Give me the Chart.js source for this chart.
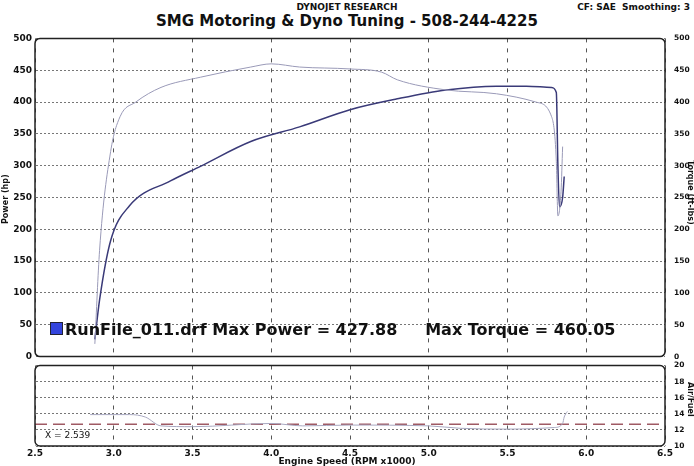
<!DOCTYPE html>
<html>
<head>
<meta charset="utf-8">
<script src="https://cdn.jsdelivr.net/npm/chart.js@4"></script>
<style>
body { margin: 0; background: #fff; font-family: "DejaVu Sans", sans-serif; }
#wrap { position: relative; width: 694px; height: 466px; }
canvas { position: absolute; left: 0; }
.t { position: absolute; color: #111; white-space: nowrap; }
.r { transform-origin: 0 0; font-size: 8px; font-weight: bold; }
</style>
</head>
<body>
<div id="wrap">
  <div class="t" style="left:0;width:694px;top:2px;text-align:center;font-size:9px;font-weight:bold;">DYNOJET RESEARCH</div>
  <div class="t" style="right:4px;top:2px;font-size:9px;font-weight:bold;">CF: SAE&nbsp; Smoothing: 3</div>
  <div class="t" style="left:0;width:694px;top:12px;text-align:center;font-size:15px;font-weight:bold;">SMG Motoring &amp; Dyno Tuning - 508-244-4225</div>
  <canvas id="main" width="694" height="335" style="top:30px"></canvas>
  <canvas id="afr" width="694" height="100" style="top:360px"></canvas>
  <div class="t" style="left:0;width:694px;top:456px;text-align:center;font-size:9px;font-weight:bold;">Engine Speed (RPM x1000)</div>
  <div class="t r" style="left:1px;top:224px;transform:rotate(-90deg);">Power (hp)</div>
  <div class="t r" style="left:695px;top:160px;transform:rotate(90deg);">Torque (ft-lbs)</div>
  <div class="t r" style="left:695px;top:382px;transform:rotate(90deg);">Air/Fuel</div>
  <div class="t" style="left:50px;top:322px;width:11px;height:11px;background:#3344dd;border:1px solid #223;"></div>
  <div class="t" style="left:65px;top:320px;font-size:16px;font-weight:bold;">RunFile_011.drf Max Power = 427.88&nbsp;&nbsp;&nbsp;&nbsp; Max Torque = 460.05</div>
  <div class="t" style="left:45px;top:430px;font-size:9px;">X = 2.539</div>
</div>
<script>
const powerRpm = [2.88, 2.91, 2.98, 3.1, 3.36, 3.55, 3.87, 4.18, 4.5, 4.8, 5.11, 5.43, 5.62, 5.78, 5.81, 5.82, 5.83, 5.85, 5.86];
const powerHp = [27, 89, 182, 237, 276, 299, 338, 361, 388, 405, 419, 425, 425, 423, 415, 300, 235, 250, 283];
const torqueRpm = [2.88, 2.91, 2.98, 3.04, 3.14, 3.3, 3.55, 3.87, 4.0, 4.18, 4.5, 4.7, 4.8, 5.11, 5.43, 5.68, 5.78, 5.81, 5.82, 5.84, 5.85];
const torqueFt = [20, 167, 322, 377, 400, 423, 439, 455, 460, 455, 452, 447, 435, 419, 413, 400, 377, 307, 221, 260, 330];
const afrRpm = [2.85, 3.1, 3.2, 3.3, 3.5, 4.0, 4.2, 4.5, 5.0, 5.2, 5.5, 5.8, 5.85, 5.86, 5.88];
const afrVal = [13.9, 13.9, 13.6, 12.5, 12.4, 12.8, 12.5, 12.6, 12.5, 12.2, 12.1, 12.3, 12.8, 13.6, 14.3];
const afrTarget = 12.7;

const pts = (xs, ys) => xs.map((x, i) => ({ x: x, y: ys[i] }));
const tickFont = { size: 9, weight: 'bold', family: 'DejaVu Sans' };
const rightFont = { size: 7.5, weight: 'bold', family: 'DejaVu Sans' };
const frame = {
  id: 'frame',
  afterDraw(c) {
    const a = c.chartArea, g = c.ctx;
    g.save(); g.strokeStyle = '#222'; g.lineWidth = 1.5;
    g.beginPath(); g.roundRect(a.left, a.top, a.right - a.left, a.bottom - a.top, 5); g.stroke();
    g.restore();
  }
};
const xScale = (show) => ({
  type: 'linear', min: 2.5, max: 6.5,
  ticks: { display: show, stepSize: 0.5, padding: 2, color: '#111', font: tickFont, callback: v => v.toFixed(1) },
  grid: { color: '#555', drawTicks: false },
  border: { display: true, color: 'rgba(0,0,0,0)', dash: [4, 6] },
  afterFit: s => { s.height = show ? 14 : 0; }
});
const hGrid = { color: '#777', drawTicks: false };
const hBorder = { display: true, color: 'rgba(0,0,0,0)', dash: [2, 2] };

new Chart(document.getElementById('main'), {
  type: 'line',
  data: {
    datasets: [
      { data: pts(torqueRpm, torqueFt), borderColor: '#9a9ab8', borderWidth: 1, pointRadius: 0, cubicInterpolationMode: 'monotone', yAxisID: 'y2' },
      { data: pts(powerRpm, powerHp), borderColor: '#3a3a78', borderWidth: 1.5, pointRadius: 0, cubicInterpolationMode: 'monotone', yAxisID: 'y' }
    ]
  },
  options: {
    responsive: false, animation: false,
    layout: { padding: { top: 6, bottom: 8 } },
    plugins: { legend: { display: false }, tooltip: { enabled: false } },
    scales: {
      x: xScale(false),
      y: {
        position: 'left', min: 0, max: 500,
        ticks: { stepSize: 50, color: '#111', font: tickFont },
        grid: hGrid, border: hBorder,
        afterFit: s => { s.width = 35; }
      },
      y2: {
        position: 'right', min: 0, max: 500,
        ticks: { stepSize: 50, padding: 1, color: '#111', font: rightFont },
        grid: { display: false }, border: { display: false },
        afterFit: s => { s.width = 29; }
      }
    }
  },
  plugins: [frame]
});

new Chart(document.getElementById('afr'), {
  type: 'line',
  data: {
    datasets: [
      { data: pts(afrRpm, afrVal), borderColor: '#a8a8c0', borderWidth: 1, pointRadius: 0, cubicInterpolationMode: 'monotone', yAxisID: 'y2' },
      { data: [{ x: 2.5, y: afrTarget }, { x: 6.5, y: afrTarget }], borderColor: '#a05a64', borderWidth: 1.5, borderDash: [12, 6], pointRadius: 0, yAxisID: 'y2' }
    ]
  },
  options: {
    responsive: false, animation: false,
    layout: { padding: { top: 5 } },
    plugins: { legend: { display: false }, tooltip: { enabled: false } },
    scales: {
      x: xScale(true),
      y: {
        position: 'left', min: 10, max: 20,
        ticks: { display: false, stepSize: 2 },
        grid: hGrid, border: hBorder,
        afterFit: s => { s.width = 35; }
      },
      y2: {
        position: 'right', min: 10, max: 20,
        ticks: { stepSize: 2, padding: 1, color: '#111', font: rightFont },
        grid: { display: false }, border: { display: false },
        afterFit: s => { s.width = 29; }
      }
    }
  },
  plugins: [frame]
});
</script>
</body>
</html>
